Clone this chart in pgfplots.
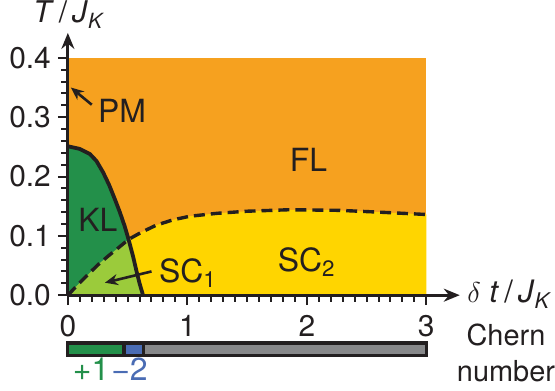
\documentclass[border=0pt]{standalone}
\usepackage{pgfplots}
\pgfplotsset{compat=1.18}
\usepackage{fontspec}
\setmainfont{TeX Gyre Heros}
\usetikzlibrary{arrows.meta}
\definecolor{orangeC}{HTML}{F6A11F}
\definecolor{dgreen}{HTML}{23904A}
\definecolor{lgreen}{HTML}{9BCB3B}
\definecolor{yellowC}{HTML}{FFD500}
\definecolor{blueC}{HTML}{4A6CB4}
\definecolor{grayC}{HTML}{87888A}
\definecolor{ink}{HTML}{231F20}
\begin{document}
\begin{tikzpicture}
\begin{axis}[
  scale only axis, width=196.5pt, height=131.5pt,
  xmin=0, xmax=3.28, ymin=0, ymax=0.442,
  axis lines=left, axis on top=true, clip=false,
  axis line style={ink, line width=1.5pt, -{Stealth[length=8pt,width=6.5pt]}},
  xtick={0,1,2,3}, ytick={0,0.1,0.2,0.3,0.4},
  minor x tick num=9, minor y tick num=4,
  tick align=outside,
  major tick length=5pt, minor tick length=3.2pt,
  every tick/.style={ink, line width=1pt},
  tick label style={font=\fontsize{15}{17}\selectfont, text=ink},
  /pgf/number format/assume math mode=true,
  yticklabel style={/pgf/number format/.cd, fixed, fixed zerofill, precision=1},
  xticklabel style={yshift=-1.5pt},
]
% background
\addplot[fill=orangeC, draw=none] coordinates {(0,0)(3,0)(3,0.4)(0,0.4)} --cycle;
% SC2 (yellow) below dashed line
\addplot[fill=yellowC, draw=none] coordinates {
(0,0)(0.1,0.021)(0.21,0.043)(0.267,0.054)(0.35,0.068)(0.43,0.081)(0.508,0.094)
(0.615,0.106)(0.74,0.118)(0.88,0.127)(1.02,0.133)(1.25,0.138)(1.5,0.1415)
(1.85,0.1440)(2.27,0.143)(2.6,0.140)(3,0.136)(3,0)} --cycle;
% KL (dark green)
\addplot[fill=dgreen, draw=none] coordinates {
(0,0.251)(0.1,0.2465)(0.184,0.238)(0.24,0.226)(0.295,0.207)(0.345,0.186)
(0.393,0.162)(0.435,0.140)(0.476,0.116)(0.508,0.094)(0.545,0.066)(0.574,0.041)
(0.60,0.020)(0.629,0)(0,0)} --cycle;
% SC1 (light green)
\addplot[fill=lgreen, draw=none] coordinates {
(0,0)(0.1,0.021)(0.21,0.043)(0.267,0.054)(0.35,0.068)(0.43,0.081)(0.508,0.094)
(0.545,0.066)(0.574,0.041)(0.60,0.020)(0.629,0)} --cycle;
% boundaries
\addplot[ink, line width=1.9pt, line join=round] coordinates {
(0,0.251)(0.1,0.2465)(0.184,0.238)(0.24,0.226)(0.295,0.207)(0.345,0.186)
(0.393,0.162)(0.435,0.140)(0.476,0.116)(0.508,0.094)(0.545,0.066)(0.574,0.041)
(0.60,0.020)(0.629,0)};
\addplot[ink, line width=1.7pt, dash pattern=on 5.5pt off 3pt] coordinates {
(0,0)(0.1,0.021)(0.21,0.043)(0.267,0.054)(0.35,0.068)(0.43,0.081)(0.508,0.094)
(0.615,0.106)(0.74,0.118)(0.88,0.127)(1.02,0.133)(1.25,0.138)(1.5,0.1415)
(1.85,0.1440)(2.27,0.143)(2.6,0.140)(3,0.136)};
% arrows
\addplot[ink, line width=1.3pt, -{Stealth[length=6.5pt,width=5.5pt]}] coordinates {(0.20,0.321)(0.025,0.350)};
\addplot[ink, line width=1.3pt, -{Stealth[length=6.5pt,width=5.5pt]}] coordinates {(0.70,0.040)(0.31,0.021)};
% Chern bar
\addplot[fill=dgreen, draw=ink, line width=1.6pt] coordinates {(0,-0.0807)(0.47,-0.0807)(0.47,-0.1017)(0,-0.1017)} --cycle;
\addplot[fill=blueC, draw=ink, line width=1.6pt] coordinates {(0.47,-0.0807)(0.63,-0.0807)(0.63,-0.1017)(0.47,-0.1017)} --cycle;
\addplot[fill=grayC, draw=ink, line width=1.6pt] coordinates {(0.63,-0.0807)(3,-0.0807)(3,-0.1017)(0.63,-0.1017)} --cycle;
% labels
\node[anchor=base west, inner sep=0, font=\fontsize{16}{19}\selectfont, text=ink] at (axis cs:0.25,0.291) {PM};
\node[anchor=base west, inner sep=0, font=\fontsize{16}{19}\selectfont, text=ink] at (axis cs:1.855,0.208) {FL};
\node[anchor=base west, inner sep=0, font=\fontsize{16}{19}\selectfont, text=ink] at (axis cs:0.084,0.1076) {KL};
\node[anchor=base west, inner sep=0, font=\fontsize{16}{19}\selectfont, text=ink] at (axis cs:0.76,0.0218) {SC\textsubscript{1}};
\node[anchor=base west, inner sep=0, font=\fontsize{16}{19}\selectfont, text=ink] at (axis cs:1.754,0.040) {SC\textsubscript{2}};
\node[anchor=base, inner sep=0, font=\fontsize{15}{17}\selectfont, text=ink] at (axis cs:0.01,0.459) {\textit{T}\,/\,\textit{J}\textsubscript{\textit{K}}};
\node[anchor=base west, inner sep=0, font=\fontsize{15.5}{17}\selectfont, text=ink] at (axis cs:3.34,-0.012) {$\delta$ \textit{t}\,/\,\textit{J}\textsubscript{\textit{K}}};
\node[anchor=base, inner sep=0, font=\fontsize{14.5}{16}\selectfont, text=ink] at (axis cs:3.667,-0.084) {Chern};
\node[anchor=base, inner sep=0, font=\fontsize{14.5}{16}\selectfont, text=ink] at (axis cs:3.667,-0.146) {number};
\node[anchor=base east, inner sep=0, font=\fontsize{16}{18}\selectfont, text=dgreen] at (axis cs:0.35,-0.1445) {+1};
\node[anchor=base west, inner sep=0, font=\fontsize{16}{18}\selectfont, text=blueC] at (axis cs:0.36,-0.1445) {−2};
\path (axis cs:-0.568,0.4975) (axis cs:4.068,-0.161);
\end{axis}
\end{tikzpicture}
\end{document}
